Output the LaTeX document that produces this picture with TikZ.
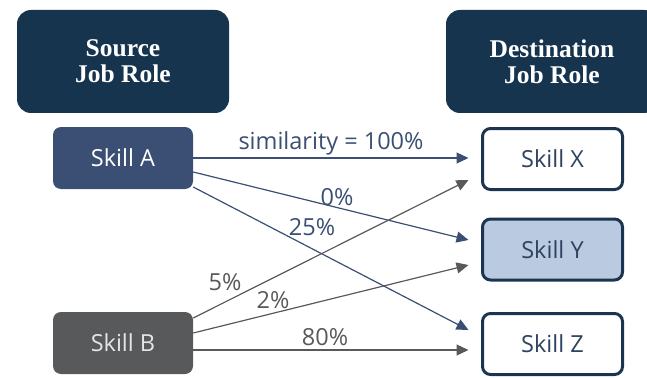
\documentclass[tikz,border=0pt]{standalone}
\usepackage{fontspec}
\setmainfont{Open Sans}
\newfontfamily\headfont{Liberation Serif}
\usetikzlibrary{arrows.meta, positioning}
\definecolor{navy}{HTML}{17344F}
\definecolor{slate}{HTML}{3A4F73}
\definecolor{stone}{HTML}{58595B}
\definecolor{pale}{HTML}{BACBE1}
\definecolor{frame}{HTML}{1B3550}
\definecolor{inktext}{HTML}{2F4360}

\tikzset{
  rolebox/.style={fill=navy, rounded corners=14pt, minimum width=212pt,
    minimum height=103pt, inner sep=0pt, align=center, text=white,
    font=\headfont\bfseries\fontsize{25.5}{26}\selectfont},
  srcbox/.style={rounded corners=8pt, minimum width=140pt, minimum height=62pt,
    inner sep=0pt, font=\fontsize{23.5}{26}\selectfont},
  dstbox/.style={draw=frame, line width=3pt, rounded corners=8pt, fill=white,
    minimum width=140pt, minimum height=61pt, inner sep=0pt, text=inktext,
    font=\fontsize{23.5}{26}\selectfont},
  linkA/.style={slate, line width=1.2pt, -{Triangle[length=12pt,width=11pt]}},
  linkB/.style={stone, line width=1.2pt, -{Triangle[length=12pt,width=11pt]}},
  lbl/.style={font=\fontsize{23.5}{26}\selectfont, inner sep=0pt}
}

\begin{document}
\begin{tikzpicture}[x=1pt, y=-1pt]
  \useasboundingbox (0,0) rectangle (647,377);
  % job roles
  \node[rolebox] (src) at (123,61.5) {Source\\Job Role};
  \node[rolebox] (dst) at (552,61.5) {Destination\\Job Role};
  % skills of the source role
  \node[srcbox, fill=slate, text=white] (skA) at (123,158) {Skill A};
  \node[srcbox, fill=stone, text=black!10] (skB) at (123,343) {Skill B};
  % skills of the destination role
  \node[dstbox] (skX) at (552.5,159) {Skill X};
  \node[dstbox, fill=pale] (skY) at (552.5,249.5) {Skill Y};
  \node[dstbox] (skZ) at (552.5,344) {Skill Z};
  % links from Skill A
  \draw[linkA] (skA.east) -- ([xshift=-12.5pt, yshift=1pt]skX.west);
  \draw[linkA] ([yshift=-14pt]skA.east) -- ([xshift=-12.5pt, yshift=9.5pt]skY.west);
  \draw[linkA] ([yshift=-29pt]skA.east) -- ([xshift=-12.5pt, yshift=14pt]skZ.west);
  % links from Skill B
  \draw[linkB] ([yshift=25pt]skB.east) -- ([xshift=-12.5pt, yshift=-21pt]skX.west);
  \draw[linkB] ([yshift=10pt]skB.east) -- ([xshift=-12.5pt, yshift=-15.5pt]skY.west);
  \draw[linkB] ([yshift=-7pt]skB.east) -- ([xshift=-12.5pt, yshift=-6pt]skZ.west);
  % similarity values
  \node[lbl, slate] (simAX) at (331,143) {similarity = 100\%};
  \node[lbl, slate] (simAY) at (337,197) {0\%};
  \node[lbl, slate] (simAZ) at (312,227) {25\%};
  \node[lbl, stone] (simBX) at (225,282) {5\%};
  \node[lbl, stone] (simBY) at (273,300) {2\%};
  \node[lbl, stone] (simBZ) at (325,337) {80\%};
\end{tikzpicture}
\end{document}
